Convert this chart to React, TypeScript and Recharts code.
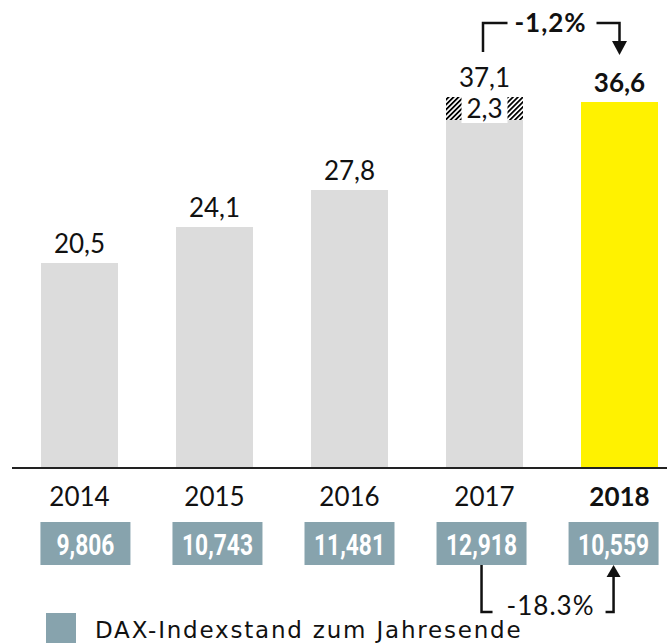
import React from 'react';
import { ComposedChart, Bar, Line, XAxis, YAxis, Cell } from 'recharts';

const years = ['2014', '2015', '2016', '2017', '2018'];
const totals = [20.5, 24.1, 27.8, 37.1, 36.6];
const oneOff = [0, 0, 0, 2.3, 0];
const daxClose = [9806, 10743, 11481, 12918, 10559];
const totalLabels = ['20,5', '24,1', '27,8', '37,1', '36,6'];
const oneOffLabel = '2,3';
const changeResult = '-1,2%';
const changeDax = '-18.3%';
const legendText = 'DAX-Indexstand zum Jahresende';

const CHART_W = 688;
const CHART_H = 643;
const MARGIN = { top: 0, right: 1, bottom: 0, left: 12 };
const PLOT_W = CHART_W - MARGIN.left - MARGIN.right;
const STEP = PLOT_W / years.length;
const MID = MARGIN.left + PLOT_W / 2;
const HIGHLIGHT = years.length - 1;

const GRAY = '#dcdcdc';
const YELLOW = '#fff200';
const DAX_BLUE = '#87a3ad';
const INK = '#111';
const FONT = 'Lato, "Open Sans", sans-serif';

const data = years.map((year, i) => ({
  year,
  base: +(totals[i] - oneOff[i]).toFixed(1),
  oneOff: oneOff[i],
  total: totals[i],
  dax: daxClose[i],
}));

// dax boxes sit on a slightly tighter grid than the bars
const boxCenter = (x: number) => MID + (x - MID) * 0.978;

const YearTick = (props: any) => {
  const { x, y, payload } = props;
  const i = payload?.index ?? props.index ?? years.indexOf(payload.value);
  const bx = boxCenter(x);
  const bold = i === HIGHLIGHT;
  const next = boxCenter(x + STEP);
  return (
    <g>
      <text x={x} y={y + 38} textAnchor="middle" fontFamily={FONT} fontSize={26}
        fontWeight={bold ? 700 : 400} fill={INK}>
        {payload.value}
      </text>
      <rect x={bx - 45} y={y + 54} width={90} height={43} fill={DAX_BLUE} />
      <text transform={`translate(${bx},${y + 87}) scale(0.76,1)`} textAnchor="middle"
        fontFamily="Roboto, sans-serif" fontWeight={700} fontSize={30} fill="#fff">
        {daxClose[i].toLocaleString('en-US')}
      </text>
      {i === HIGHLIGHT - 1 && (
        <g stroke={INK} strokeWidth={2.5} fill="none">
          <polyline points={`${bx},${y + 97} ${bx},${y + 144} ${bx + 11},${y + 144}`} />
          <polyline points={`${next - 8},${y + 144} ${next},${y + 144} ${next},${y + 107}`} />
          <polygon points={`${next - 7},${y + 109} ${next + 7},${y + 109} ${next},${y + 97}`}
            fill={INK} stroke="none" />
          <text x={(bx + next) / 2 + 3} y={y + 147} textAnchor="middle" fontFamily={FONT}
            fontSize={26} letterSpacing={1} fill={INK} stroke="none">
            {changeDax}
          </text>
        </g>
      )}
    </g>
  );
};

const TotalLabel = (props: any) => {
  const { x, y, index } = props;
  const bold = index === HIGHLIGHT;
  return (
    <g>
      <text x={x} y={y - 10} textAnchor="middle" fontFamily={FONT} fontSize={26}
        fontWeight={bold ? 700 : 400} fill={INK}>
        {totalLabels[index]}
      </text>
      {index === HIGHLIGHT - 1 && (
        <g stroke={INK} strokeWidth={2.5} fill="none">
          <polyline points={`${x - 1.5},${y - 45} ${x - 1.5},${y - 74} ${x + 23},${y - 74}`} />
          <polyline points={`${x + 112},${y - 74} ${x + STEP},${y - 74} ${x + STEP},${y - 54}`} />
          <polygon points={`${x + STEP - 7.5},${y - 56} ${x + STEP + 7.5},${y - 56} ${x + STEP},${y - 42}`}
            fill={INK} stroke="none" />
          <text x={x + 66} y={y - 65} textAnchor="middle" fontFamily={FONT} fontSize={26}
            fontWeight={700} letterSpacing={1} fill={INK} stroke="none">
            {changeResult}
          </text>
        </g>
      )}
    </g>
  );
};

const HatchShape = (props: any) => {
  const { x, y, width, height } = props;
  if (!height || height <= 0) return null;
  const cx = x + width / 2;
  return (
    <g>
      <defs>
        <pattern id="hatch" patternUnits="userSpaceOnUse" width={3.5} height={3.5}
          patternTransform="rotate(45)">
          <rect width={3.5} height={3.5} fill="#fff" />
          <line x1={0.9} y1={0} x2={0.9} y2={3.5} stroke="#000" strokeWidth={1.8} />
        </pattern>
      </defs>
      <rect x={x} y={y} width={width} height={height} fill="url(#hatch)" />
      <rect x={cx - 23} y={y} width={46} height={height + 3} fill="#fff" />
      <text x={cx} y={y + 21} textAnchor="middle" fontFamily={FONT} fontSize={26} fill={INK}>
        {oneOffLabel}
      </text>
    </g>
  );
};

export default function App() {
  return (
    <div style={{ position: 'absolute', left: 0, top: 0, width: 667, height: 643, overflow: 'hidden', background: '#fff' }}>
      <ComposedChart width={CHART_W} height={CHART_H} data={data} margin={MARGIN}>
        <XAxis dataKey="year" axisLine={{ stroke: '#222', strokeWidth: 2 }} tickLine={false}
          tickSize={0} tickMargin={0} height={175} interval={0} tick={<YearTick />} />
        <YAxis hide domain={[0, 46.8]} />
        <Bar dataKey="base" stackId="a" barSize={77} isAnimationActive={false}>
          {data.map((_, i) => (
            <Cell key={`c-${i}`} fill={i === HIGHLIGHT ? YELLOW : GRAY} />
          ))}
        </Bar>
        <Bar dataKey="oneOff" stackId="a" barSize={77} shape={<HatchShape />} isAnimationActive={false} />
        <Line dataKey="total" stroke="none" dot={false} activeDot={false} isAnimationActive={false}
          label={<TotalLabel />} />
      </ComposedChart>
      <svg width={667} height={643} style={{ position: 'absolute', left: 0, top: 0, pointerEvents: 'none' }}>
        <rect x={46} y={613} width={30} height={30} fill={DAX_BLUE} />
        <text x={95} y={638} style={{ fontFamily: "'DejaVu Sans', sans-serif", fontSize: 23, letterSpacing: 1.8 }} fill={INK}>
          {legendText}
        </text>
      </svg>
    </div>
  );
}
